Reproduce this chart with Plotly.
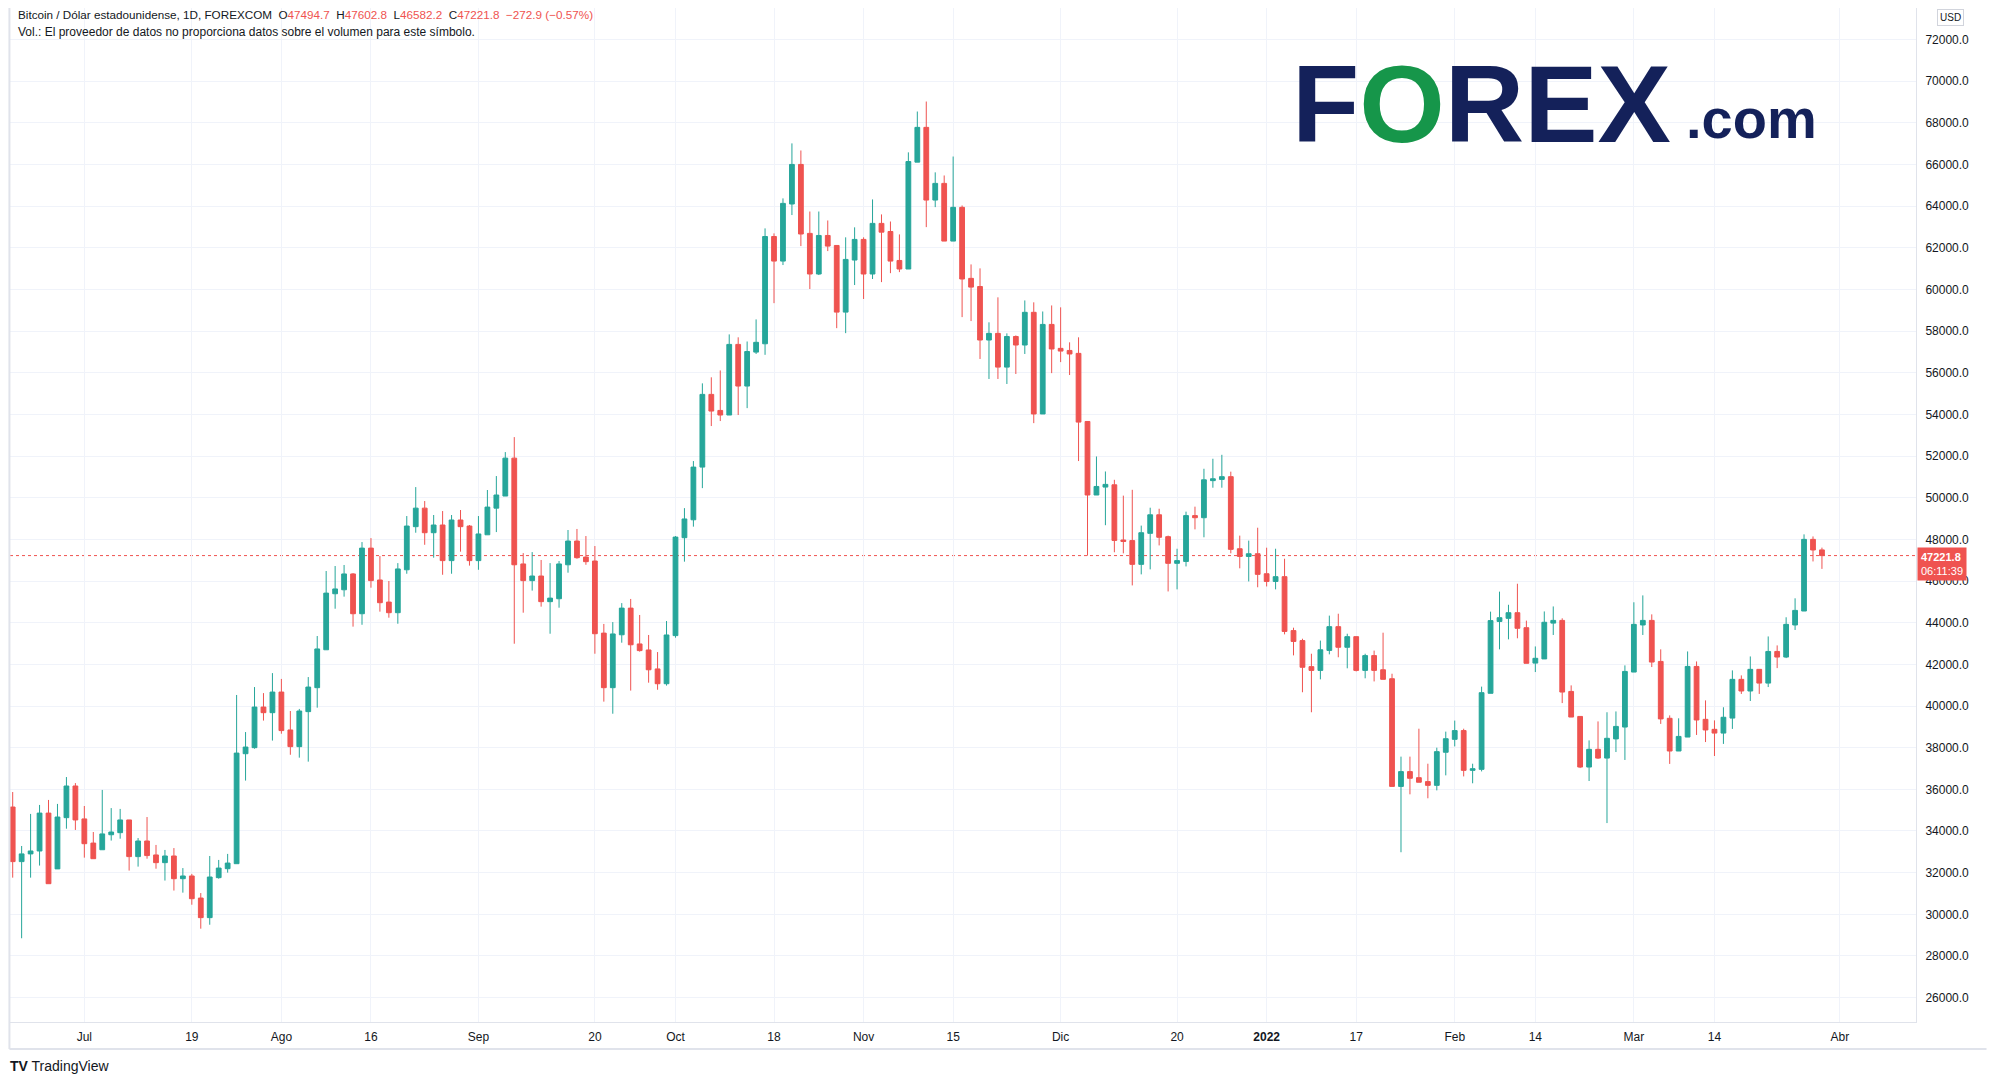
import pandas as pd
import plotly.graph_objects as go

# Bitcoin / USD daily (weekday) candles, FOREXCOM, 21 Jun 2021 - 30 Mar 2022
dates = pd.bdate_range('2021-06-21', '2022-03-30').strftime('%Y-%m-%d').tolist()

open_ = [
    # jun
    35150, 32530, 32900, 33040, 34860, 32180, 34640, 36160,
    # jul
    34580, 33420, 33100, 33820, 33920, 34530, 32770, 33520, 32850, 32480,
    32800, 31710, 31840, 30780, 29840, 31760, 32190, 32430, 37710, 38000,
    39950, 39680,
    # aug
    40670, 38850, 38050, 39730, 40880, 42700, 45390, 45580, 46340, 44430,
    47580, 46050, 44990, 44480, 46540, 48610, 49500, 48320, 48690, 46980,
    48930, 48640,
    # sep
    46980, 48220, 49500, 50080, 51900, 46820, 46020, 46240, 45010, 45150,
    46780, 47920, 47150, 46960, 43500, 40880, 43420, 44700, 42980, 42690,
    41780, 41070,
    # oct
    43380, 48080, 48940, 51470, 54960, 54190, 53970, 57360, 55360, 56990,
    57390, 62540, 61360, 64100, 66000, 62690, 60740, 62590, 62110, 58910,
    61410,
    # nov
    62400, 60740, 63170, 62780, 61390, 60980, 66110, 67780, 64290, 65090,
    62320, 63940, 60530, 60140, 57570, 57890, 56270, 57740, 57330, 58900,
    54020, 58320,
    # dec
    57170, 57070, 56930, 53660, 50130, 50510, 50620, 47970, 47940, 46800,
    48290, 49180, 48130, 46850, 46940, 49140, 49040, 50820, 50880, 51010,
    47550, 47180, 47310,
    # jan
    46350, 45980, 46210, 43620, 43140, 41890, 41710, 42670, 43810, 42820,
    43330, 41710, 42420, 41740, 41310, 36140, 36850, 36560, 36370, 36190,
    37780,
    # feb
    38400, 38820, 36910, 36960, 40610, 44060, 44210, 44480, 43760, 42060,
    42260, 43980, 44110, 40700, 39500, 37070, 37920, 37500, 38420, 38990,
    # mar
    41630, 43890, 44110, 42140, 39410, 37840, 38510, 41900, 39360, 38880,
    38700, 39420, 41280, 40720, 41760, 41100, 42620, 42350, 43890, 44560,
    48000, 47494.7,
]

high = [
    35870, 33280, 34820, 35250, 35490, 35300, 36590, 36300,
    35200, 33950, 35970, 35100, 35060, 34530, 33660, 34670, 33330, 33090,
    33180, 32220, 31940, 31020, 32800, 32610, 32900, 40530, 38750, 40910,
    40620, 41580,
    41300, 39760, 39860, 41390, 43360, 46480, 46720, 46770, 46380, 47870,
    48060, 47200, 46000, 46860, 49120, 50510, 49840, 49170, 49360, 49170,
    49410, 48690,
    49120, 50370, 51040, 52190, 52910, 47340, 47390, 47010, 46860, 46960,
    48450, 48500, 48160, 47680, 43940, 44030, 44940, 45140, 44370, 43410,
    42590, 44080,
    48160, 49500, 51760, 55490, 55780, 56110, 57840, 57700, 57500, 58560,
    62930, 62690, 64370, 67010, 66670, 63740, 63740, 63310, 62110, 62500,
    62980,
    62500, 64320, 63600, 63260, 62640, 66580, 68540, 69020, 65620, 65470,
    66380, 64030, 61200, 61010, 58420, 59620, 57890, 57790, 59470, 59380,
    58940, 59230,
    59140, 57460, 57700, 53660, 51980, 51260, 50860, 50100, 50380, 48660,
    49520, 49470, 48180, 47550, 49330, 49570, 51390, 51870, 52060, 51250,
    48180, 47940, 48560,
    47600, 47550, 47070, 43760, 43230, 42510, 43140, 44340, 44430, 43470,
    43330, 42510, 42660, 43520, 41550, 37570, 37570, 38910, 37230, 38000,
    38770,
    39300, 38910, 37230, 40930, 44530, 45490, 44860, 45870, 44100, 42860,
    44540, 44780, 44210, 40990, 39500, 38350, 39260, 39700, 39740, 41950,
    44980, 45310, 44400, 42720, 39550, 39410, 42620, 42140, 40270, 39310,
    39940, 41710, 41470, 42380, 41760, 43340, 42910, 44260, 45170, 48240,
    48140, 47602.8,
]

low = [
    31760, 28850, 31760, 32340, 31470, 32180, 34110, 34050,
    32720, 32670, 33100, 33540, 33630, 32100, 32290, 32670, 32190, 31620,
    31140, 31040, 30460, 29310, 29500, 31710, 32000, 32430, 36420, 37950,
    39300, 38340,
    38670, 37660, 37520, 37330, 39920, 42700, 44670, 45250, 43810, 43900,
    45680, 44530, 44240, 43950, 46350, 48320, 47740, 47120, 46300, 46350,
    47410, 46740,
    46540, 48220, 48350, 50080, 42990, 44480, 45540, 44770, 43470, 44720,
    46400, 47070, 46780, 42510, 40210, 39630, 43040, 40740, 42610, 41120,
    40780, 40980,
    43280, 46930, 48610, 50460, 53440, 53680, 53970, 53970, 54300, 56900,
    56860, 59340, 61170, 63570, 62080, 60020, 60690, 61840, 58140, 57900,
    60210,
    59540, 60500, 60350, 60780, 60830, 60980, 66110, 62990, 63950, 62320,
    62320, 58670, 58480, 56660, 55700, 55700, 55460, 55940, 56900, 53580,
    54020, 55980,
    56510, 55890, 51760, 47220, 50130, 48680, 47380, 47330, 45790, 46320,
    46560, 47710, 45500, 45600, 46700, 48480, 48100, 50480, 50480, 47330,
    46610, 45980, 45700,
    45740, 45600, 43440, 42430, 40660, 39700, 41280, 42480, 42340, 41810,
    41660, 41330, 41180, 41280, 36140, 32980, 35760, 36340, 35570, 35950,
    36670,
    38060, 36620, 36290, 36860, 40610, 42720, 43200, 43250, 42050, 41630,
    42260, 43410, 40140, 39470, 37020, 36400, 37460, 34380, 37790, 37410,
    41630, 43410, 41870, 39140, 37220, 37840, 38510, 38610, 38270, 37600,
    38180, 38900, 40580, 40240, 40580, 40910, 41820, 42300, 43650, 44560,
    46940, 46582.2,
]

close = [
    32530, 32900, 33040, 34860, 31470, 34670, 36160, 34530,
    33390, 32670, 33860, 33950, 34530, 32770, 33520, 32820, 32480, 32800,
    31710, 31840, 30750, 29840, 31790, 32220, 32460, 37740, 38030, 39950,
    39680, 40670,
    38820, 38050, 39760, 40910, 42740, 45420, 45620, 46340, 44430, 47580,
    46020, 44960, 44480, 46580, 48640, 49500, 48320, 48690, 46980, 48930,
    48610, 46980,
    48260, 49550, 50130, 51900, 46780, 46020, 46240, 45010, 45180, 46820,
    47920, 47120, 46930, 43470, 40880, 43460, 44700, 42940, 42660, 41740,
    41070, 43410,
    48110, 48980, 51470, 54960, 54160, 53970, 57360, 55360, 57020, 57460,
    62540, 61360, 64130, 66000, 62660, 60740, 62590, 62080, 58910, 61440,
    62400,
    60740, 63170, 62750, 61360, 60980, 66140, 67780, 64290, 65090, 62320,
    63940, 60500, 60110, 57570, 57890, 56270, 57740, 57330, 58900, 54020,
    58320, 57140,
    57040, 56900, 53630, 50130, 50540, 50640, 47950, 47900, 46800, 48320,
    49180, 48100, 46850, 46980, 49140, 49040, 50860, 50910, 51010, 47520,
    47180, 47310, 46320,
    45980, 46210, 43580, 43100, 41860, 41710, 42700, 43810, 42820, 43330,
    41710, 42420, 41710, 41280, 36140, 36850, 36530, 36340, 36190, 37810,
    38430,
    38820, 36910, 36990, 40640, 44100, 44240, 44480, 43730, 42050, 42290,
    44020, 44110, 40670, 39470, 37070, 37920, 37500, 38450, 39020, 41660,
    43920, 44110, 42110, 39380, 37840, 38540, 41900, 39330, 38850, 38700,
    39460, 41280, 40720, 41760, 41100, 42620, 42350, 43920, 44590, 48000,
    47490, 47221.8,
]

tick_dates = ['2021-07-01', '2021-07-19', '2021-08-02', '2021-08-16', '2021-09-01',
              '2021-09-20', '2021-10-01', '2021-10-18', '2021-11-01', '2021-11-15',
              '2021-12-01', '2021-12-20', '2022-01-03', '2022-01-17', '2022-02-01',
              '2022-02-14', '2022-03-01', '2022-03-14']
tick_text = ['Jul', '19', 'Ago', '16', 'Sep', '20', 'Oct', '18', 'Nov', '15',
             'Dic', '20', '<b>2022</b>', '17', 'Feb', '14', 'Mar', '14']

price_ticks = list(range(26000, 72001, 2000))
last_price = 47221.8

green = '#26a69a'
red = '#ef5350'
grid = '#f0f3fa'
border = '#e0e3eb'
txt = '#131722'

# category positions (weekdays only); extra slots on the right for "Abr"
n = len(dates)
x_idx = list(range(n))
tickvals = [dates.index(d) for d in tick_dates] + [n + 1]   # Fri 1 Apr 2022 follows Thu 31 Mar
ticktext = tick_text + ['Abr']

fig = go.Figure(go.Candlestick(
    x=x_idx, open=open_, high=high, low=low, close=close,
    increasing=dict(line=dict(color=green, width=1), fillcolor=green),
    decreasing=dict(line=dict(color=red, width=1), fillcolor=red),
    whiskerwidth=0, showlegend=False, hoverinfo='skip',
))

# page has an 8px body margin, so the figure is 16px smaller than the window
fig.update_layout(
    width=1979, height=1069,
    margin=dict(l=2, r=71, t=0, b=55),
    paper_bgcolor='white', plot_bgcolor='white',
    font=dict(family='Liberation Sans, Arial, sans-serif', size=12, color=txt),
    boxgap=0.24,
    xaxis=dict(
        range=[-0.3, 212.5], rangeslider=dict(visible=False),
        tickvals=tickvals, ticktext=ticktext, showgrid=True, gridcolor=grid,
        zeroline=False, showline=True, linecolor=border, ticks='',
        ticklabelstandoff=4, tickfont=dict(size=12, color=txt),
    ),
    yaxis=dict(
        side='right', range=[24830, 73510], tickvals=price_ticks,
        tickformat='.1f', showgrid=True, gridcolor=grid, zeroline=False,
        showline=True, linecolor=border, ticks='', ticklabelstandoff=6,
        tickfont=dict(size=12, color=txt),
    ),
)

# last price dotted line
fig.add_shape(type='line', xref='paper', x0=0, x1=1, yref='y', y0=last_price, y1=last_price,
              line=dict(color=red, width=1, dash='dot'), layer='below')

# borders round the chart and the time scale
fig.add_shape(type='line', xref='paper', yref='paper', x0=-0.0003, x1=-0.0003, y0=1, y1=-0.0266,
              line=dict(color=border, width=2))
fig.add_shape(type='line', xref='paper', yref='paper', x0=-0.0003, x1=1.037, y0=-0.0266, y1=-0.0266,
              line=dict(color=border, width=2))

# price label on the scale
fig.add_annotation(xref='paper', x=1.0, xanchor='left', yref='y', y=last_price, yanchor='middle',
                   text='<b>47221.8</b><br>06:11:39', showarrow=False, align='left',
                   font=dict(size=11, color='white'), bgcolor=red, borderpad=3,
                   xshift=1, yshift=-8)

# USD box
fig.add_annotation(xref='paper', x=1.0, xanchor='left', yref='paper', y=1.0, yanchor='top',
                   text='USD', showarrow=False, font=dict(size=10, color=txt),
                   bordercolor='#d1d4dc', borderwidth=1, borderpad=2, xshift=21, yshift=-1)

# legend / header
vals = [('O', '47494.7'), ('H', '47602.8'), ('L', '46582.2'), ('C', '47221.8')]
head = 'Bitcoin / Dólar estadounidense, 1D, FOREXCOM  '
head += '  '.join(f'{k}<span style="color:{red}">{v}</span>' for k, v in vals)
head += f'  <span style="color:{red}">−272.9 (−0.57%)</span>'
fig.add_annotation(xref='paper', x=0, xanchor='left', yref='paper', y=1, yanchor='middle',
                   text=head, showarrow=False, font=dict(size=11.7, color=txt), xshift=6, yshift=-6)
fig.add_annotation(xref='paper', x=0, xanchor='left', yref='paper', y=1, yanchor='middle',
                   text='Vol.: El proveedor de datos no proporciona datos sobre el volumen para este símbolo.',
                   showarrow=False, font=dict(size=12, color=txt), xshift=6, yshift=-24)

# FOREX.com watermark
fig.add_annotation(xref='paper', x=0.6716, xanchor='left', yref='paper', y=0.9054, yanchor='middle',
                   text='<b>F<span style="color:#16964a">O</span>REX</b>', showarrow=False,
                   font=dict(family='Liberation Sans, Arial, sans-serif', size=110, color='#14215a'))
fig.add_annotation(xref='paper', x=0.8784, xanchor='left', yref='paper', y=0.8906, yanchor='middle',
                   text='<b>.com</b>', showarrow=False,
                   font=dict(family='Liberation Sans, Arial, sans-serif', size=56, color='#14215a'))

# TradingView footer
fig.add_annotation(xref='paper', x=0, xanchor='left', yref='paper', y=-0.0434, yanchor='middle',
                   text='<b>TV</b> TradingView', showarrow=False,
                   font=dict(size=14, color=txt), xshift=-2)

fig.write_html('out.html')
